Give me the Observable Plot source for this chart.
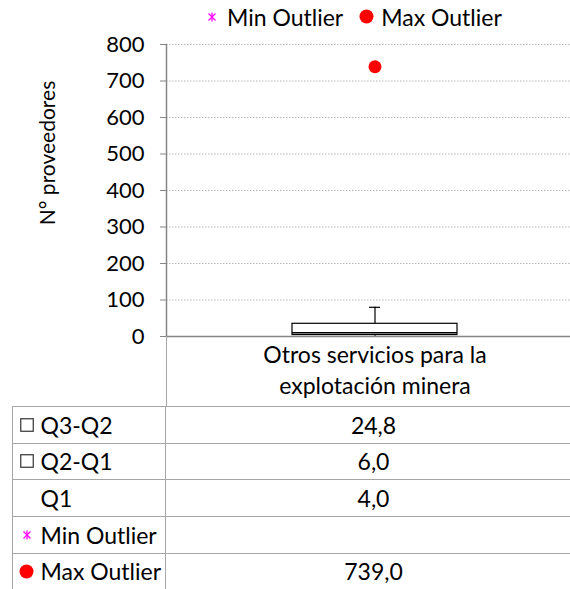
<!DOCTYPE html>
<html><head><meta charset="utf-8">
<script src="https://cdn.jsdelivr.net/npm/d3@7"></script>
<script src="https://cdn.jsdelivr.net/npm/@observablehq/plot@0.6"></script>
<style>
body{margin:0;background:#fff;font-family:Lato,"Open Sans",sans-serif;color:#000;}
#wrap{position:relative;width:570px;height:589px;overflow:hidden;}
#wrap svg.plot{position:absolute;left:0;top:0;}
#legend{position:absolute;top:0;left:207px;height:33px;display:flex;align-items:center;font-size:23px;white-space:nowrap;}
#legend .item{display:flex;align-items:center;}
#legend .item + .item{margin-left:16px;}
#legend .s1{margin-right:10px;}
#legend .s2{margin-right:7px;}
#ytitle{position:absolute;left:45.5px;top:153px;transform:translate(-50%,-50%) rotate(-90deg);font-size:21px;white-space:nowrap;}
#vline{position:absolute;left:165.5px;top:336px;width:1.5px;height:71px;background:#a6a6a6;}
#table{position:absolute;left:12px;top:406px;display:grid;grid-template-columns:154px 420px;grid-auto-rows:36.67px;font-size:23px;}
#table .c{box-sizing:border-box;border-top:1.5px solid #a6a6a6;display:flex;align-items:center;white-space:nowrap;}
#table .c1{border-left:1.5px solid #a6a6a6;border-right:1.5px solid #a6a6a6;padding-left:4px;}
#table .c2{justify-content:center;padding-right:5px;}
#table .sym{width:19px;display:inline-flex;justify-content:center;align-items:center;margin-right:4.5px;}
</style></head><body><div id="wrap"></div>
<script>
const categories = ["Otros servicios para la\nexplotación minera"];
const q1Values = [4.0];
const q2MinusQ1 = [6.0];
const q3MinusQ2 = [24.8];
const minWhisker = [1];
const maxWhisker = [80];
const minOutliers = [null];
const maxOutliers = [739.0];
const yTicks = [0, 100, 200, 300, 400, 500, 600, 700, 800];
const rowLabels = ["Q3-Q2", "Q2-Q1", "Q1", "Min Outlier", "Max Outlier"];
const rowSymbols = ["square", "square", "none", "star", "dot"];
const yTitle = "N° proveedores";
const legendItems = [["star", "Min Outlier"], ["dot", "Max Outlier"]];

const data = categories.map((c, i) => ({
  cat: c,
  q1: q1Values[i],
  q2: q1Values[i] + q2MinusQ1[i],
  q3: q1Values[i] + q2MinusQ1[i] + q3MinusQ2[i],
  lo: minWhisker[i],
  hi: maxWhisker[i],
  outMax: maxOutliers[i],
  outMin: minOutliers[i]
}));

const fmt = v => v == null ? "" : v.toFixed(1).replace(".", ",");

const chart = Plot.plot({
  width: 570, height: 407,
  marginTop: 44, marginBottom: 71, marginLeft: 166, marginRight: 0,
  style: {fontFamily: "Lato, 'Open Sans', sans-serif", fontSize: "22px", color: "#000", background: "transparent"},
  x: {type: "band", domain: categories, range: [166, 583], padding: 0},
  y: {domain: [0, 800]},
  marks: [
    Plot.gridY(yTicks.slice(1), {stroke: "#b8b8b8", strokeOpacity: 1, strokeDasharray: "1.5,1.5"}),
    Plot.ruleY([0], {stroke: "#868686", strokeWidth: 1.5}),
    Plot.frame({anchor: "left", stroke: "#868686", strokeWidth: 1.5}),
    Plot.axisY(yTicks, {tickSize: 6, tickPadding: 16, stroke: "#868686", fontSize: 22, label: null}),
    Plot.axisX({tickSize: 0, tickPadding: 4, fontSize: 23, lineHeight: 1.35, label: null}),
    Plot.ruleX(data, {x: "cat", y1: "q3", y2: "hi", stroke: "#000", strokeWidth: 1.2}),
    Plot.ruleX(data, {x: "cat", y1: "lo", y2: "q1", stroke: "#000", strokeWidth: 1.2}),
    Plot.tickY(data, {x: "cat", y: "hi", stroke: "#000", strokeWidth: 1.2, insetLeft: 203, insetRight: 203}),
    Plot.barY(data, {x: "cat", y1: "q1", y2: "q3", fill: "white", stroke: "#000", strokeWidth: 1.2, insetLeft: 126, insetRight: 126}),
    Plot.tickY(data, {x: "cat", y: "q2", stroke: "#000", strokeWidth: 1.5, insetLeft: 126, insetRight: 126}),
    Plot.dot(data.filter(d => d.outMax != null), {x: "cat", y: "outMax", fill: "#ff0000", r: 6.5}),
    Plot.dot(data.filter(d => d.outMin != null), {x: "cat", y: "outMin", symbol: "asterisk", stroke: "#ff00ff", r: 4})
  ]
});

const wrap = document.getElementById("wrap");
wrap.appendChild(chart);

function symbolSvg(kind, cls = "") {
  if (kind === "square") return `<svg class="${cls}" width="14" height="14"><rect x="0.75" y="0.75" width="12.5" height="12.5" fill="white" stroke="#333" stroke-width="1.2"/></svg>`;
  if (kind === "dot") return `<svg class="${cls}" width="15" height="15"><circle cx="7.5" cy="7.5" r="7" fill="#ff0000"/></svg>`;
  if (kind === "star") return `<svg class="${cls}" width="10" height="10"><g stroke="#ff00ff" stroke-width="1.3"><line x1="1.5" y1="1.5" x2="8.5" y2="8.5"/><line x1="8.5" y1="1.5" x2="1.5" y2="8.5"/><line x1="5" y1="0.5" x2="5" y2="9.5"/></g></svg>`;
  return `<svg class="${cls}" width="14" height="14"></svg>`;
}

const legend = document.createElement("div");
legend.id = "legend";
legend.innerHTML = legendItems.map(([k, t], i) => `<span class="item">${symbolSvg(k, "s" + (i + 1))}<span>${t}</span></span>`).join("");
wrap.appendChild(legend);

const yt = document.createElement("div");
yt.id = "ytitle";
yt.textContent = yTitle;
wrap.appendChild(yt);

const vl = document.createElement("div");
vl.id = "vline";
wrap.appendChild(vl);

const tableValues = [q3MinusQ2[0], q2MinusQ1[0], q1Values[0], minOutliers[0], maxOutliers[0]];
const table = document.createElement("div");
table.id = "table";
table.innerHTML = rowLabels.map((lab, i) =>
  `<div class="c c1"><span class="sym">${symbolSvg(rowSymbols[i])}</span><span>${lab}</span></div><div class="c c2">${fmt(tableValues[i])}</div>`
).join("");
wrap.appendChild(table);
</script>
</body></html>
